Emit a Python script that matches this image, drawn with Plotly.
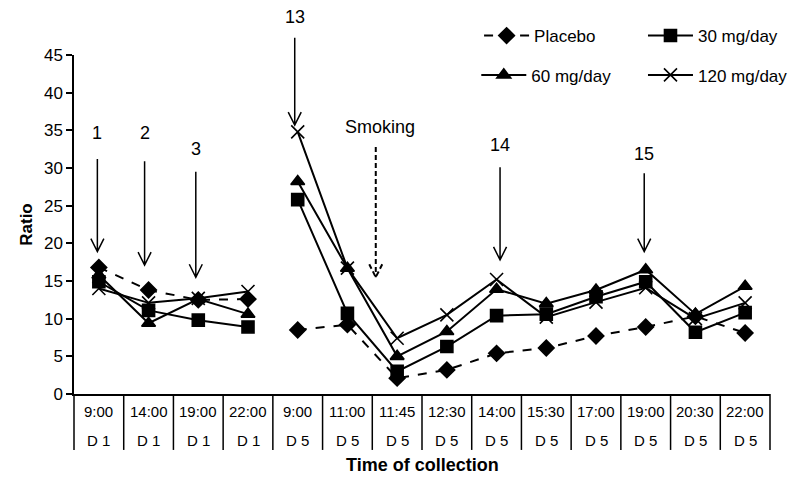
import plotly.graph_objects as go

times = ["9:00", "14:00", "19:00", "22:00", "9:00", "11:00", "11:45", "12:30",
         "14:00", "15:30", "17:00", "19:00", "20:30", "22:00"]
days = ["D 1"] * 4 + ["D 5"] * 10

placebo = [16.8, 13.8, 12.5, 12.6, 8.5, 9.2, 2.1, 3.2, 5.4, 6.1, 7.7, 8.9, 10.3, 8.1]
mg30 = [14.9, 11.1, 9.8, 8.9, 25.8, 10.7, 3.0, 6.3, 10.4, 10.6, 12.9, 14.9, 8.2, 10.8]
mg60 = [15.8, 9.4, 12.6, 10.6, 28.2, 16.7, 5.0, 8.3, 13.9, 12.0, 13.8, 16.5, 10.6, 14.3]
mg120 = [14.0, 12.1, 12.7, 13.6, 34.8, 16.7, 7.4, 10.5, 15.2, 10.2, 12.2, 14.1, 10.0, 12.1]

# arrow annotations: label, x (category index), top value, tip value, label value, dashed
arrow_labels = ["1", "2", "3", "13", "Smoking", "14", "15"]
arrow_x = [-0.03, 0.92, 1.95, 3.94, 5.57, 8.07, 10.97]
arrow_top = [31.2, 30.9, 29.5, 47.3, 32.8, 30.1, 29.3]
arrow_tip = [18.9, 17.1, 15.5, 35.7, 15.5, 17.8, 18.9]
arrow_lab_y = [34.6, 34.6, 32.5, 50.0, 35.4, 33.0, 31.9]
arrow_lab_x = [-0.03, 0.92, 1.95, 3.94, 5.65, 8.07, 10.97]
arrow_dash = [False, False, False, False, True, False, False]

YMAX = 45
XMIN, XMAX = -0.5, 13.5
N = len(times)
GAP_AFTER = 3  # break between D1 and D5


def split(vals):
    xs, ys = [], []
    for i, v in enumerate(vals):
        xs.append(i)
        ys.append(v)
        if i == GAP_AFTER:
            xs.append(None)
            ys.append(None)
    return xs, ys


def px(xd):
    return (xd - XMIN) / (XMAX - XMIN)


def py(yd):
    return yd / YMAX


font = "Liberation Sans, Arial, sans-serif"
fig = go.Figure()

series = [
    ("Placebo", placebo, "diamond", 12, "dash", "legend"),
    ("30 mg/day", mg30, "square", 12, "solid", "legend2"),
    ("60 mg/day", mg60, "triangle-up", 12, "solid", "legend3"),
    ("120 mg/day", mg120, "x-thin-open", 13, "solid", "legend4"),
]
for name, vals, sym, size, dash, leg in series:
    xs, ys = split(vals)
    fig.add_trace(go.Scatter(
        x=xs, y=ys, name=name, mode="lines+markers",
        line=dict(color="black", width=2, dash=dash),
        marker=dict(symbol=sym, size=size, color="black",
                    line=dict(color="black", width=1.6)),
        legend=leg, connectgaps=False, showlegend=True,
    ))

shapes = []
# category dividers below the axis
for i in range(N + 1):
    xb = px(i - 0.5)
    shapes.append(dict(type="line", xref="paper", yref="paper",
                       x0=xb, x1=xb, y0=0, y1=-0.165,
                       line=dict(color="black", width=1.5)))

annotations = []
for i in range(N):
    annotations.append(dict(x=i, xref="x", y=-0.053, yref="paper", text=times[i],
                            xanchor="center", yanchor="middle",
                            showarrow=False, font=dict(size=15, color="black", family=font)))
    annotations.append(dict(x=i, xref="x", y=-0.136, yref="paper", text=days[i],
                            xanchor="center", yanchor="middle",
                            showarrow=False, font=dict(size=15, color="black", family=font)))

hw = 6.5 / 49.7  # head half width in category units
hh = 13 / 339 * YMAX  # head height in value units
for lab, xa, yt, ytip, ly, lx, dsh in zip(arrow_labels, arrow_x, arrow_top, arrow_tip,
                                         arrow_lab_y, arrow_lab_x, arrow_dash):
    d = "5px,3px" if dsh else "solid"
    w = 2 if dsh else 1.5
    path = (f"M {px(xa)} {py(yt)} L {px(xa)} {py(ytip)} "
            f"M {px(xa - hw)} {py(ytip + hh)} L {px(xa)} {py(ytip)} L {px(xa + hw)} {py(ytip + hh)}")
    shapes.append(dict(type="path", xref="paper", yref="paper", path=path,
                       line=dict(color="black", width=w, dash=d)))
    annotations.append(dict(x=px(lx), xref="paper", y=py(ly), yref="paper", text=lab,
                            xanchor="center", yanchor="middle",
                            showarrow=False, font=dict(size=18, color="black", family=font)))

annotations.append(dict(x=0.5, xref="paper", y=-0.209, yref="paper", yanchor="middle",
                        xanchor="center",
                        text="<b>Time of collection</b>", showarrow=False,
                        font=dict(size=18, color="black", family=font)))


def leg(xp, yp):
    return dict(x=xp, y=yp, xanchor="left", yanchor="middle", itemwidth=45,
                font=dict(size=17, family=font), bgcolor="rgba(0,0,0,0)", visible=True)


fig.update_layout(
    width=795, height=469,
    margin=dict(l=66, r=33, t=47, b=83, autoexpand=False),
    paper_bgcolor="white", plot_bgcolor="white",
    font=dict(family=font, color="black"),
    showlegend=True,
    xaxis=dict(range=[XMIN, XMAX], showgrid=False, zeroline=False, showticklabels=False,
               showline=True, linecolor="black", linewidth=2, ticks=""),
    yaxis=dict(range=[0, YMAX], dtick=5, showgrid=False, zeroline=False,
               showline=True, linecolor="black", linewidth=1.5,
               ticks="outside", ticklen=6, tickwidth=1.5, tickcolor="black",
               tickfont=dict(size=17, family=font),
               title=dict(text="<b>Ratio</b>", font=dict(size=17, family=font), standoff=7)),
    legend=leg(0.582, 1.056),
    legend2=leg(0.8175, 1.056),
    legend3=leg(0.578, 0.94),
    legend4=leg(0.8175, 0.94),
    shapes=shapes, annotations=annotations,
)

fig.write_html("out.html")
